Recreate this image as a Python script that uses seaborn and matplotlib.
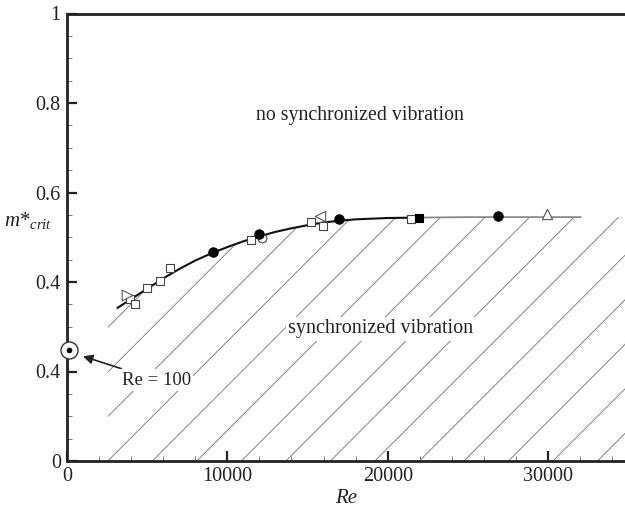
import numpy as np
import matplotlib
matplotlib.use("Agg")
import matplotlib.pyplot as plt
import seaborn as sns
from matplotlib.patches import Polygon

# fitted boundary curve (dark part, then lighter extension)
curve_re = [3140, 4000, 5000, 6000, 7000, 8000, 9000, 10000, 11000, 12000,
            13000, 14000, 15000, 16000, 17000, 18000, 20000, 22000]
curve_m = [0.342, 0.362, 0.385, 0.408, 0.429, 0.448, 0.464, 0.478, 0.491, 0.502,
           0.512, 0.520, 0.527, 0.533, 0.537, 0.540, 0.543, 0.544]
ext_re = [22000, 25000, 28000, 32050]
ext_m = [0.544, 0.545, 0.545, 0.545]

# measured points
sq_open_re = [3900, 4250, 4970, 5800, 6425, 11480, 15200, 15950, 21460]
sq_open_m = [0.362, 0.350, 0.386, 0.403, 0.432, 0.493, 0.534, 0.526, 0.541]
circ_re = [9090, 11960, 16950, 26870]
circ_m = [0.466, 0.508, 0.541, 0.547]
circ_open_re = [12150]
circ_open_m = [0.499]
tri_r_re = [3750]
tri_r_m = [0.372]
tri_l_re = [15780]
tri_l_m = [0.547]
tri_up_re = [29960]
tri_up_m = [0.553]
sq_fill_re = [21940]
sq_fill_m = [0.543]
low_re = [100]
low_m = [0.248]

xticks = [0, 10000, 20000, 30000]
yticks = [0, 0.2, 0.4, 0.6, 0.8, 1.0]
ytick_labels = ['0', '0.4', '0.4', '0.6', '0.8', '1']

sns.set_theme(style='white')
plt.rcParams['font.family'] = ['Liberation Serif', 'DejaVu Serif']
plt.rcParams['mathtext.fontset'] = 'custom'
plt.rcParams['mathtext.it'] = 'Liberation Serif:italic'
plt.rcParams['mathtext.rm'] = 'Liberation Serif'

fig = plt.figure(figsize=(6.25, 5.08), dpi=100)
ax = fig.add_axes([67 / 625, 47 / 508, 558 / 625, 447.5 / 508])
xmax = 34800
ax.set_xlim(0, xmax)
ax.set_ylim(0, 1)

# hatched region under the curve
top_re = [2545] + curve_re + ext_re[1:] + [xmax]
top_m = [0.311] + curve_m + ext_m[1:] + [0.545]
poly = Polygon(list(zip([2545] + top_re + [xmax], [0] + top_m + [0])),
               closed=True, facecolor='none', edgecolor='none',
               transform=ax.transData)
ax.add_patch(poly)
slope = 3.585e-5
step = 2776
for n in range(-14, 12):
    x0 = 2545 + n * step
    xs = np.array([x0, x0 + 1.0 / slope])
    line, = ax.plot(xs, slope * (xs - x0), color='#7a7a7a', lw=0.65, zorder=1)
    line.set_clip_path(poly)

sns.lineplot(x=curve_re, y=curve_m, ax=ax, color='#111111', lw=1.5, zorder=3)
sns.lineplot(x=ext_re, y=ext_m, ax=ax, color='#8a8a8a', lw=1.3, zorder=3)

kw = dict(ax=ax, zorder=4, linewidth=0.8)
sns.scatterplot(x=circ_open_re, y=circ_open_m, marker='o', color='white',
                edgecolor='#444444', s=40, **kw)
sns.scatterplot(x=sq_open_re, y=sq_open_m, marker='s', color='white',
                edgecolor='#444444', s=40, **kw)
sns.scatterplot(x=tri_r_re, y=tri_r_m, marker='>', color='white',
                edgecolor='#555555', s=60, **kw)
sns.scatterplot(x=tri_l_re, y=tri_l_m, marker='<', color='white',
                edgecolor='#555555', s=55, **kw)
sns.scatterplot(x=tri_up_re, y=tri_up_m, marker='^', color='white',
                edgecolor='#555555', s=55, **kw)
sns.scatterplot(x=circ_re, y=circ_m, marker='o', color='black',
                edgecolor='black', s=45, **kw)
sns.scatterplot(x=sq_fill_re, y=sq_fill_m, marker='s', color='black',
                edgecolor='black', s=35, **kw)
sns.scatterplot(x=low_re, y=low_m, marker='o', color='white',
                edgecolor='#333333', s=150, ax=ax, zorder=6, linewidth=1.0,
                clip_on=False)
sns.scatterplot(x=low_re, y=low_m, marker='o', color='black',
                edgecolor='black', s=14, ax=ax, zorder=7, clip_on=False)

box = dict(facecolor='white', edgecolor='none', pad=1.5)
ax.text(18280, 0.772, 'no synchronized vibration', ha='center', va='center',
        fontsize=14.3, color='#222222')
ax.text(19530, 0.295, 'synchronized vibration', ha='center', va='center',
        fontsize=14.5, color='#222222', bbox=box, zorder=5)
ax.annotate('Re = 100', xy=(1000, 0.234), xytext=(3430, 0.181),
            ha='left', va='center', fontsize=13.5, color='#222222',
            bbox=box, zorder=5,
            arrowprops=dict(arrowstyle='-|>', color='#222222', lw=1.2,
                            mutation_scale=14, shrinkA=2, shrinkB=0))

ax.set_xticks(xticks)
ax.set_xticklabels([str(t) for t in xticks])
ax.set_yticks(yticks)
ax.set_yticklabels(ytick_labels)
ax.set_xticks(np.arange(0, xmax, 2000), minor=True)
ax.set_yticks(np.arange(0, 1.0, 0.05), minor=True)
ax.tick_params(which='major', direction='in', length=7, width=1.6,
               color='#222222', labelsize=14.5, labelcolor='#222222', pad=4.5)
ax.tick_params(which='minor', direction='in', length=3.5, width=0.7,
               color='#777777')
ax.tick_params(axis='both', which='both', bottom=True, left=True,
               top=False, right=False)

for side in ['left', 'bottom', 'top']:
    ax.spines[side].set_linewidth(2.0)
    ax.spines[side].set_color('#222222')
ax.spines['right'].set_visible(False)

ax.set_xlabel('Re', fontsize=15, style='italic', color='#222222', labelpad=2)
ax.set_ylabel('$m$*$_{crit}$', fontsize=15, rotation=0, color='#222222')
ax.yaxis.set_label_coords(-0.07, 0.515)

fig.savefig('out.png', dpi=100)
